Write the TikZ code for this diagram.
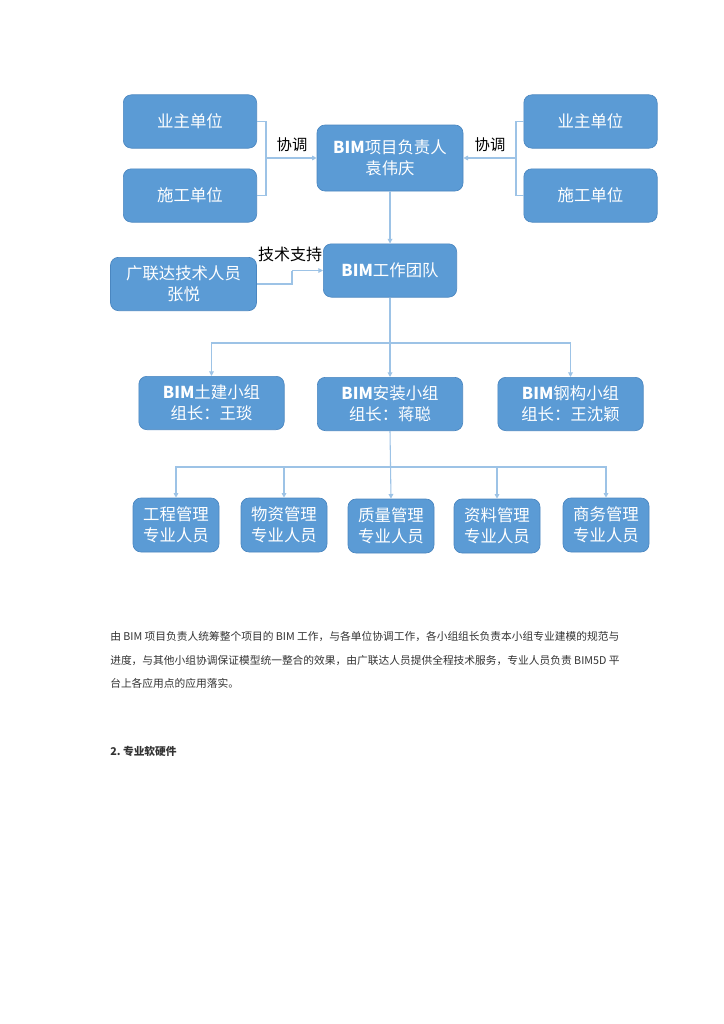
\documentclass[tikz,border=0pt]{standalone}
\usepackage{fontspec}
\setmainfont{Noto Sans CJK SC}
\usetikzlibrary{arrows.meta,positioning}
\definecolor{boxblue}{HTML}{5B9BD5}
\definecolor{boxline}{HTML}{4A86C0}
\definecolor{linkblue}{HTML}{9DC3E6}
\definecolor{bodygray}{HTML}{333333}
\tikzset{
  unit/.style={draw=boxline, fill=boxblue, line width=0.5pt, rounded corners=6pt,
    text=white, font=\fontsize{12.3}{15.5}\selectfont, align=center, inner sep=1pt},
  widebox/.style={unit, minimum width=100pt, minimum height=40pt},
  staffbox/.style={unit, minimum width=64.5pt, minimum height=40.5pt},
  link/.style={draw=linkblue, line width=0.8pt},
  tolink/.style={link, -{Triangle[length=3.5pt,width=3.5pt]}},
  note/.style={font=\fontsize{11.5}{13}\selectfont, text=black, inner sep=0pt},
  para/.style={anchor=west, font=\fontsize{8.05}{9}\selectfont, text=bodygray, inner sep=0pt}
}
\begin{document}
\begin{tikzpicture}[x=0.75pt,y=-0.75pt]
  \useasboundingbox[fill=white] (0,0) rectangle (724,1024);

  % top level
  \node[widebox] (ownL) at (190,121.5) {业主单位};
  \node[widebox] (buildL) at (190,195.5) {施工单位};
  \node[widebox, minimum width=109.5pt, minimum height=49.5pt] (lead) at (390,158) {\textbf{BIM}项目负责人\\袁伟庆};
  \node[widebox] (ownR) at (590.5,121.5) {业主单位};
  \node[widebox] (buildR) at (590.5,195.5) {施工单位};

  \coordinate (brL) at (266,158);
  \coordinate (brR) at (516,158);
  \draw[link] (ownL.east) -| (brL) |- (buildL.east);
  \draw[tolink] (brL) -- (lead.west);
  \draw[link] (ownR.west) -| (brR) |- (buildR.west);
  \draw[tolink] (brR) -- (lead.east);
  \node[note] (coL) at (292,145) {协调};
  \node[note] (coR) at (490,145) {协调};

  % team and support
  \node[widebox] (team) at (390,270.5) {\textbf{BIM}工作团队};
  \node[widebox, minimum width=109.5pt] (glodon) at (183.5,284) {广联达技术人员\\张悦};
  \draw[tolink] (lead.south) -- (team.north);
  \coordinate (jog) at (292,270.5);
  \draw[link] (glodon.east) -| (jog);
  \draw[tolink] (jog) -- (team.west);
  \node[note, font=\fontsize{12}{14}\selectfont] (help) at (290,254) {技术支持};

  % groups
  \node[widebox, minimum width=109pt] (civil) at (211.5,403) {\textbf{BIM}土建小组\\组长：王琰};
  \node[widebox, minimum width=109pt] (mep) at (390,404) {\textbf{BIM}安装小组\\组长：蒋聪};
  \node[widebox, minimum width=109pt] (steel) at (570.5,404) {\textbf{BIM}钢构小组\\组长：王沈颖};
  \coordinate (split1) at (390,343);
  \draw[tolink] (team.south) -- (mep.north);
  \draw[tolink] (split1) -| (civil.north);
  \draw[tolink] (split1) -| (steel.north);

  % staff
  \node[staffbox] (s1) at (176,525) {工程管理\\专业人员};
  \node[staffbox] (s2) at (284,525) {物资管理\\专业人员};
  \node[staffbox] (s3) at (391,526) {质量管理\\专业人员};
  \node[staffbox] (s4) at (497,526) {资料管理\\专业人员};
  \node[staffbox] (s5) at (606,525) {商务管理\\专业人员};
  \coordinate (split2) at (390,467);
  \draw[tolink] (mep.south) -- (s3.north);
  \foreach \s in {s1,s2,s4,s5}
    \draw[tolink] (split2) -| (\s.north);

  % text below
  \node[para] (line1) at (110,637) {由 BIM 项目负责人统筹整个项目的 BIM 工作，与各单位协调工作，各小组组长负责本小组专业建模的规范与};
  \node[para] (line2) at (110,660) {进度，与其他小组协调保证模型统一整合的效果，由广联达人员提供全程技术服务，专业人员负责 BIM5D 平};
  \node[para] (line3) at (110,683) {台上各应用点的应用落实。};
  \node[para, font=\bfseries\fontsize{8.05}{9}\selectfont] (head2) at (110,751) {2.\ 专业软硬件};
\end{tikzpicture}
\end{document}
